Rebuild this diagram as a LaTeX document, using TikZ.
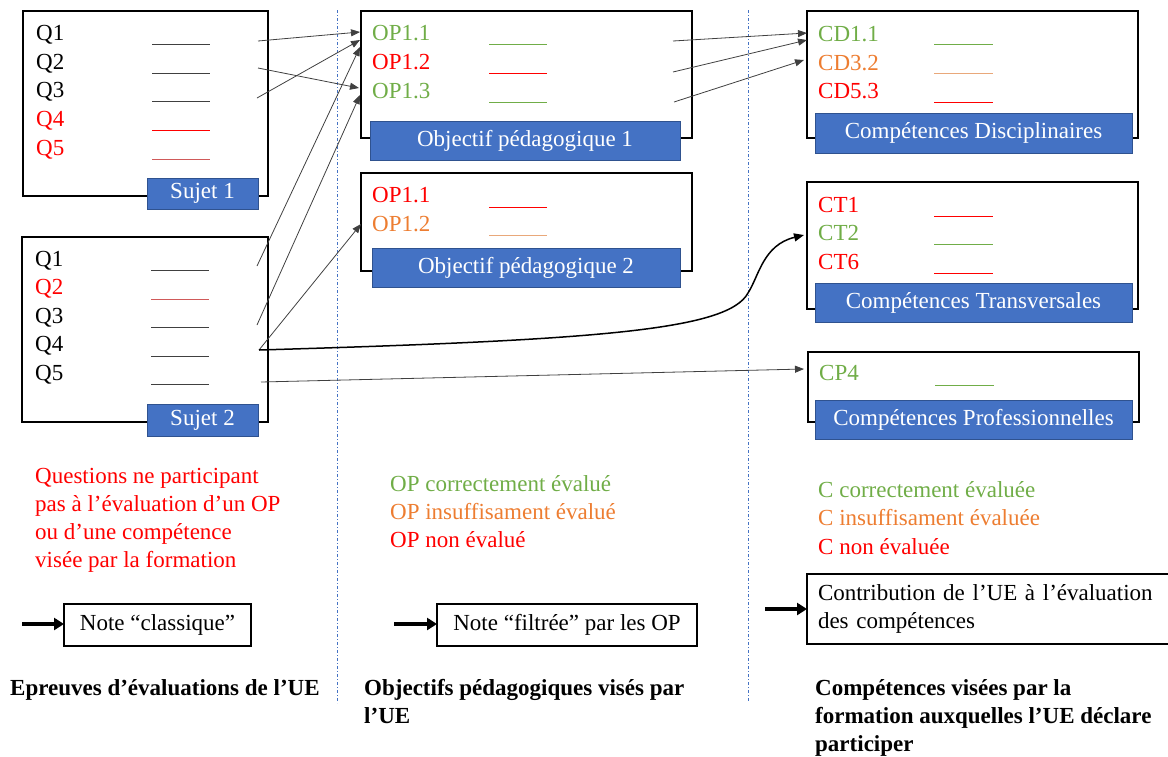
\documentclass[tikz,border=0pt]{standalone}
\usepackage{fontspec}
\setmainfont{Liberation Serif}
\usetikzlibrary{arrows.meta}
\definecolor{cgreen}{HTML}{70AD47}
\definecolor{corange}{HTML}{ED7D31}
\definecolor{cred}{HTML}{FF0000}
\definecolor{cbrown}{HTML}{D05A5A}
\definecolor{ctan}{HTML}{E9A87A}
\definecolor{cblue}{HTML}{4472C4}
\definecolor{cblueb}{HTML}{2F528F}
\definecolor{cgray}{HTML}{404040}
\newcommand{\fs}{\fontsize{23}{28}\selectfont}
\begin{document}
\begin{tikzpicture}[x=1pt,y=-1pt,
  box/.style={draw=black, line width=1.2pt, anchor=north west, inner sep=0pt, outer sep=0pt},
  lbl/.style={fill=cblue, draw=cblueb, line width=0.8pt, text=white, font=\fs, anchor=north west, inner sep=0pt, outer sep=0pt},
  item/.style={anchor=base west, inner sep=0pt, font=\fs},
  txt/.style={anchor=base west, inner sep=0pt, font=\fs},
  uline/.style={line width=1pt},
  conn/.style={draw=cgray, line width=0.8pt, -{Triangle[length=9pt,width=7pt]}},
  bigarrow/.style={draw=black, line width=3.5pt, -{Triangle[length=10pt,width=12pt]}},
  notebox/.style={draw=black, line width=1.2pt, inner sep=0pt, outer sep=0pt, anchor=north west, font=\fs},
  sep/.style={draw=cblue, line width=0.6pt, dash pattern=on 3pt off 2pt on 1pt off 2pt}
]
\useasboundingbox (0,0) rectangle (1168,756);
% separators
\draw[sep] (337,10) -- (337,703);
\draw[sep] (748,10) -- (748,701);

% ---------- Sujet 1 ----------
\node[box, minimum width=245pt, minimum height=185pt] (s1) at (23,11) {};
\node[item] (s1q1) at (36,40) {Q1};
\node[item] (s1q2) at (36,69) {Q2};
\node[item] (s1q3) at (36,97) {Q3};
\node[item, text=cred] (s1q4) at (36,126) {Q4};
\node[item, text=cred] (s1q5) at (36,155) {Q5};
\draw[uline, cgray] (152,44) -- (210,44);
\draw[uline, cgray] (152,73) -- (210,73);
\draw[uline, cgray] (152,101) -- (210,101);
\draw[uline, cred] (152,130) -- (210,130);
\draw[uline, cbrown] (152,159) -- (210,159);
\node[lbl, minimum width=111pt, minimum height=31pt] (s1l) at (147,178) {Sujet 1};

% ---------- Sujet 2 ----------
\node[box, minimum width=246pt, minimum height=185pt] (s2) at (22,237) {};
\node[item] (s2q1) at (35,266) {Q1};
\node[item, text=cred] (s2q2) at (35,294) {Q2};
\node[item] (s2q3) at (35,323) {Q3};
\node[item] (s2q4) at (35,351) {Q4};
\node[item] (s2q5) at (35,380) {Q5};
\draw[uline, cgray] (151,270) -- (209,270);
\draw[uline, cbrown] (151,299) -- (209,299);
\draw[uline, cgray] (151,327) -- (209,327);
\draw[uline, cgray] (151,356) -- (209,356);
\draw[uline, cgray] (151,384) -- (209,384);
\node[lbl, minimum width=111pt, minimum height=32pt] (s2l) at (147,404) {Sujet 2};

% ---------- Objectif 1 ----------
\node[box, minimum width=331pt, minimum height=127pt] (op1) at (361,11) {};
\node[item, text=cgreen] (op11) at (372,40) {OP1.1};
\node[item, text=cred] (op12) at (372,69) {OP1.2};
\node[item, text=cgreen] (op13) at (372,98) {OP1.3};
\draw[uline, cgreen] (489,44) -- (547,44);
\draw[uline, cred] (489,73) -- (547,73);
\draw[uline, cgreen] (489,102) -- (547,102);
\node[lbl, minimum width=310pt, minimum height=39pt] (op1l) at (370,121) {Objectif pédagogique 1};

% ---------- Objectif 2 ----------
\node[box, minimum width=331pt, minimum height=98pt] (op2) at (361,173) {};
\node[item, text=cred] (op21) at (372,202) {OP1.1};
\node[item, text=corange] (op22) at (372,231) {OP1.2};
\draw[uline, cred] (489,207) -- (547,207);
\draw[uline, ctan] (489,235) -- (547,235);
\node[lbl, minimum width=308pt, minimum height=39pt] (op2l) at (372,248) {Objectif pédagogique 2};

% ---------- Compétences disciplinaires ----------
\node[box, minimum width=331pt, minimum height=127pt] (cd) at (807,11) {};
\node[item, text=cgreen] (cd11) at (818,41) {CD1.1};
\node[item, text=corange] (cd32) at (818,70) {CD3.2};
\node[item, text=cred] (cd53) at (818,98) {CD5.3};
\draw[uline, cgreen] (934,44) -- (993,44);
\draw[uline, ctan] (934,73) -- (993,73);
\draw[uline, cred] (934,102) -- (993,102);
\node[lbl, minimum width=317pt, minimum height=40pt] (cdl) at (815,113) {Compétences Disciplinaires};

% ---------- Compétences transversales ----------
\node[box, minimum width=331pt, minimum height=127pt] (ct) at (807,182) {};
\node[item, text=cred] (ct1) at (818,212) {CT1};
\node[item, text=cgreen] (ct2) at (818,240) {CT2};
\node[item, text=cred] (ct6) at (818,269) {CT6};
\draw[uline, cred] (934,216) -- (993,216);
\draw[uline, cgreen] (934,244) -- (993,244);
\draw[uline, cred] (934,273) -- (993,273);
\node[lbl, minimum width=317pt, minimum height=39pt] (ctl) at (815,283) {Compétences Transversales};

% ---------- Compétences professionnelles ----------
\node[box, minimum width=331pt, minimum height=70pt] (cp) at (808,352) {};
\node[item, text=cgreen] (cp4) at (819,380) {CP4};
\draw[uline, cgreen] (935,385) -- (994,385);
\node[lbl, minimum width=317pt, minimum height=39pt] (cpl) at (815,400) {Compétences Professionnelles};

% ---------- connector end points ----------
\coordinate (a1) at (258,41);
\coordinate (a2) at (258,68);
\coordinate (a3) at (257,98);
\coordinate (b1) at (257,266);
\coordinate (b3) at (257,325);
\coordinate (b4) at (259,350);
\coordinate (b5) at (261,382);
\coordinate (t1) at (360,32);
\coordinate (t2) at (360,40);
\coordinate (t3) at (360,47);
\coordinate (t4) at (359,88);
\coordinate (t5) at (360,95);
\coordinate (t6) at (361,224);
\coordinate (o1) at (673,41);
\coordinate (o2) at (673,72);
\coordinate (o3) at (674,102);
\coordinate (u1) at (807,33);
\coordinate (u2) at (807,40);
\coordinate (u3) at (804,60);
\coordinate (u4) at (804,235);
\coordinate (u5) at (804,369);

\draw[conn] (a1) -- (t1);
\draw[conn] (a3) -- (t2);
\draw[conn] (a2) -- (t4);
\draw[conn] (b1) -- (t3);
\draw[conn] (b3) -- (t5);
\draw[conn] (b4) -- (t6);
\draw[conn] (b5) -- (u5);
\draw[conn] (o1) -- (u1);
\draw[conn] (o2) -- (u2);
\draw[conn] (o3) -- (u3);
\draw[draw=black, line width=1.5pt, -{Triangle[length=10pt,width=8pt]}]
  (b4) .. controls (600,340) and (728,330) .. (748,293)
       .. controls (759,276) and (763,245) .. (u4);

% ---------- legends ----------
\node[txt, text=cred] (leg1) at (35,483) {\parbox[t]{300pt}{\fs\raggedright Questions ne participant\\ pas à l’évaluation d’un OP\\ ou d’une compétence\\ visée par la formation}};
\node[txt, text=cgreen] (lop1) at (390,491) {OP correctement évalué};
\node[txt, text=corange] (lop2) at (390,519) {OP insuffisament évalué};
\node[txt, text=cred] (lop3) at (390,547) {OP non évalué};
\node[txt, text=cgreen] (lc1) at (818,497) {C correctement évaluée};
\node[txt, text=corange] (lc2) at (818,525) {C insuffisament évaluée};
\node[txt, text=cred] (lc3) at (818,554) {C non évaluée};

% ---------- note boxes ----------
\node[notebox, minimum width=187pt, minimum height=42pt] (n1) at (64,604) {Note “classique”};
\node[notebox, minimum width=260pt, minimum height=42pt] (n2) at (437,604) {Note “filtrée” par les OP};
\node[notebox, minimum width=370pt, minimum height=70pt, text width=360pt, align=left, inner xsep=11pt] (n3) at (807,574) {Contribution de l’UE à l’évaluation\\ des compétences};
\coordinate (na1) at (22,624);
\coordinate (na2) at (394,624);
\coordinate (na3) at (765,609);
\draw[bigarrow] (na1) -- (n1.west |- na1);
\draw[bigarrow] (na2) -- (n2.west |- na2);
\draw[bigarrow] (na3) -- (n3.west |- na3);

% ---------- titles ----------
\node[txt] (h1) at (10,695) {\bfseries Epreuves d’évaluations de l’UE};
\node[txt] (h2) at (364,695) {\parbox[t]{360pt}{\fs\bfseries\raggedright Objectifs pédagogiques visés par\\ l’UE}};
\node[txt] (h3) at (815,695) {\parbox[t]{360pt}{\fs\bfseries\raggedright Compétences visées par la\\ formation auxquelles l’UE déclare\\ participer}};
\end{tikzpicture}
\end{document}
